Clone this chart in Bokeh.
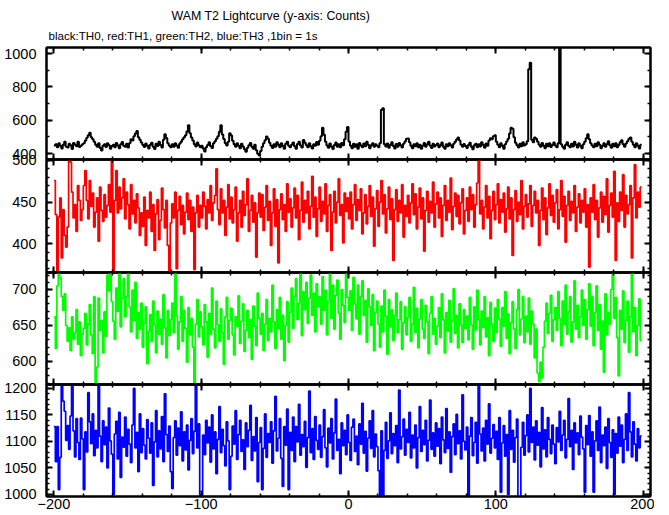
import numpy as np
from bokeh.plotting import figure
from bokeh.models import Range1d, LinearAxis, SingleIntervalTicker, Title, Grid
from bokeh.layouts import column
from bokeh.embed import file_html
from bokeh.resources import INLINE

# ---------------- data (counts per 1 s bin) ----------------
time_start = -200      # left edge of first bin [s]
bin_width = 1          # 1 bin = 1 s

title_text = "WAM T2 Lightcurve (y-axis: Counts)"
subtitle_text = "black:TH0, red:TH1, green:TH2, blue:TH3 ,1bin = 1s"

th0_counts = [
    448,455,438,462,447,430,452,470,441,436,458,449,427,463,452,444,471,439,446,455,
    462,478,495,510,524,498,485,470,452,440,461,433,418,447,456,439,462,450,428,445,
    452,437,463,448,431,455,469,447,440,458,436,462,485,478,503,520,535,497,482,466,
    451,439,460,446,430,452,465,441,427,458,445,470,451,436,482,516,493,462,447,438,
    455,441,462,448,435,459,470,486,498,510,532,569,521,496,478,455,442,466,450,437,
    446,430,412,438,451,467,445,433,462,474,488,503,530,569,514,487,462,448,471,522,
    508,476,455,440,462,447,431,458,442,426,410,435,449,463,441,428,452,419,398,388,
    415,440,462,479,502,488,465,447,433,456,441,468,452,437,461,445,429,458,470,447,
    438,452,466,443,429,457,471,448,436,481,465,450,438,462,444,430,455,447,469,452,
    476,503,555,512,470,448,435,460,442,427,451,466,440,455,437,463,449,485,530,559,
    472,446,432,458,441,455,429,463,448,437,460,444,470,452,431,449,462,440,456,447,
    438,461,662,671,455,442,460,434,451,468,445,430,457,441,463,449,436,458,472,489,
    490,468,447,432,456,444,461,438,452,429,447,463,440,455,470,446,433,458,442,451,
    460,437,449,466,441,428,455,443,462,450,436,459,470,484,496,478,452,440,457,445,
    433,451,464,440,426,449,458,437,455,442,468,451,434,460,447,478,492,486,503,510,
    470,452,438,461,447,429,456,472,488,520,555,548,497,465,450,436,459,443,467,448,
    456,474,905,945,482,468,496,488,471,452,440,463,447,431,458,444,462,439,451,466,
    448,437,462,1080,455,441,429,453,467,446,438,459,442,470,453,436,461,447,432,455,
    470,492,515,486,462,448,437,459,444,468,453,431,447,462,440,456,473,449,435,458,
    444,462,437,451,468,480,455,441,460,474,489,496,470,452,438,461,447,430,452,
]

th1_counts = [
    476,435,367,432,455,383,441,410,396,420,500,498,462,431,447,415,470,452,428,441,
    470,488,452,430,476,445,461,420,438,455,403,468,440,427,459,432,446,471,438,500,
    366,452,488,437,468,442,455,478,430,462,447,418,471,436,452,425,460,443,410,437,
    421,456,398,440,431,462,415,447,392,436,453,405,428,467,441,419,452,398,368,425,
    448,431,462,370,440,457,423,446,412,438,461,429,452,415,444,369,437,458,420,446,
    431,462,445,418,453,437,470,428,449,458,490,441,423,466,437,452,410,444,471,430,
    456,425,441,468,403,437,452,420,463,434,447,478,415,440,458,426,449,384,437,461,
    432,459,416,444,470,428,451,398,437,466,421,453,377,441,460,429,447,415,472,438,
    454,420,443,467,431,458,405,440,474,426,452,437,463,418,445,481,432,456,409,442,
    468,427,451,436,472,415,446,459,392,438,463,425,450,478,434,447,401,461,439,455,
    430,462,418,447,471,428,453,440,466,412,437,459,424,445,470,433,456,397,442,464,
    421,450,476,436,459,413,442,468,429,454,380,441,465,427,452,437,471,408,446,433,
    458,425,449,472,435,460,418,444,467,430,455,391,440,463,426,451,437,474,420,448,
    462,431,455,409,446,470,428,452,438,479,417,445,461,433,458,424,449,466,412,440,
    455,427,468,441,459,420,447,473,500,436,452,418,444,470,431,457,406,440,463,429,
    447,472,425,453,438,461,414,442,468,430,455,386,441,464,427,450,435,476,418,445,
    459,432,448,470,421,446,463,437,452,398,440,467,429,455,411,443,472,434,458,426,
    449,465,418,441,476,433,457,402,446,463,428,451,437,470,415,444,460,425,452,438,
    466,420,447,372,455,438,471,429,452,408,443,462,426,457,435,478,414,446,461,432,
    487,380,449,427,462,440,483,420,458,436,447,470,383,455,495,431,462,444,468,
]

th2_counts = [
    662,618,705,724,716,690,671,694,650,628,647,615,662,631,640,672,624,655,608,638,
    646,667,623,652,679,637,611,690,568,592,688,643,657,612,669,635,720,698,724,683,
    656,631,702,670,724,648,688,715,662,690,724,676,641,699,657,710,632,668,645,681,
    620,653,676,597,642,665,628,684,651,612,670,638,659,624,693,647,605,671,636,658,
    681,640,724,663,617,655,690,628,671,646,599,675,637,660,620,570,652,686,634,669,
    648,623,679,655,606,667,638,702,645,619,684,651,628,673,640,596,662,689,631,657,
    674,637,609,662,648,691,625,656,680,614,643,671,633,658,603,677,649,622,695,660,
    638,667,615,652,686,629,660,641,706,655,618,672,646,689,631,664,601,650,683,627,
    668,702,646,690,715,658,681,724,636,697,672,710,653,688,720,664,695,641,708,676,
    690,652,718,671,699,637,684,724,660,706,645,692,713,667,631,700,678,654,722,689,
    671,698,643,717,680,659,706,638,690,712,664,685,627,701,676,650,693,615,668,684,
    652,620,677,641,699,663,610,686,648,672,629,664,695,640,658,683,617,654,676,637,
    661,689,628,652,703,640,674,619,659,686,645,632,678,655,611,667,690,638,660,624,
    649,675,633,694,658,612,668,642,685,627,656,701,639,664,619,680,651,626,672,646,
    663,630,689,651,617,676,644,699,658,623,670,647,690,634,661,608,682,652,628,674,
    640,686,659,621,675,649,697,632,666,611,654,683,645,618,672,700,637,659,690,626,
    663,641,688,624,670,652,605,645,584,572,599,577,620,656,681,639,667,692,628,658,
    675,643,697,660,622,684,651,706,638,669,690,627,655,712,645,678,633,662,699,650,
    686,631,672,708,649,690,622,668,705,643,679,617,656,585,694,637,668,652,700,722,
    660,689,633,580,671,645,698,626,657,684,613,662,722,641,675,608,650,687,629,
]

th3_counts = [
    1128,1062,1128,1009,1070,1207,1176,1157,1102,1130,1085,1148,1207,1120,1071,1143,1098,1066,1144,1105,
    1009,1118,1080,1192,1137,1096,1152,1073,1121,1088,1204,1110,1062,1139,1094,1127,1050,1163,1101,1076,
    1000,1114,1138,1067,1155,1032,1108,1089,1146,1072,1123,1095,1060,1131,1200,1088,1117,1043,1152,1079,
    1124,1093,1067,1141,1106,1078,1135,1017,1099,1158,1071,1120,1086,1147,1062,1190,1113,1081,1129,1043,
    1011,1107,1139,1074,1125,1092,1156,1063,1118,1084,1131,1046,1102,1143,1077,1119,1207,1088,1133,998,
    996,1112,1075,1140,1097,1127,1061,1150,1086,1118,1039,1104,1166,1079,1123,1092,1054,1137,1101,1009,
    1072,1129,1095,1158,1066,1113,1140,1081,1103,1047,1135,1090,1121,1168,1064,1109,1082,1145,1024,1098,
    1126,1009,1087,1152,1070,1115,1098,1137,1059,1120,1185,1082,1106,1143,1068,1015,1128,1093,1161,1009,
    1117,1083,1146,1062,1128,1099,1170,1074,1113,1090,1138,1051,1107,1195,1079,1124,1066,1147,1102,1085,
    1131,1070,1109,1160,1088,1052,1125,1097,1143,1067,1116,1180,1083,1104,1039,1135,1092,1121,1075,1150,
    1098,1064,1127,1142,1081,1110,1056,1133,1095,1172,1078,1119,1044,1106,1139,1087,1158,1071,1114,1090,
    1045,995,1120,995,1083,1136,1068,1101,1154,1077,1115,1092,1130,1060,1197,1086,1109,1142,1074,1123,
    1098,1155,1069,1112,1088,1131,1050,1107,1166,1081,1121,1094,1140,1063,1102,1178,1085,1116,1072,1135,
    1091,1124,1058,1146,1103,1079,1162,1087,1118,1042,1109,1133,1075,1151,1096,1120,1067,1188,1100,1084,
    1127,995,1110,1145,1073,1098,1136,1059,1207,1114,1082,1125,1063,1140,1095,1171,1078,1106,1132,1088,
    1119,1066,1145,1004,1097,1130,1072,1113,1000,1158,1085,1121,1061,1107,1142,995,995,1089,1136,1074,
    1111,1150,1080,1200,1098,1127,1065,1139,1093,1117,1052,1164,1086,1122,1071,1145,1104,1077,1131,1095,
    1058,1126,1099,1157,1083,1112,1140,1069,1104,1181,1090,1121,1047,1135,1097,1116,1075,1148,1108,1086,
    1004,1130,1094,1149,1072,1118,1004,1101,1139,1083,1165,1060,1112,1092,1127,1049,1143,1098,1070,1122,
    1000,1115,1078,1146,1091,1131,1060,1104,1152,1083,1192,1118,1071,1137,1095,1063,1124,1088,1110,
]

# axis limits and tick spacing of each panel
x_limits = (-205, 205)
x_tick_interval = 100
x_label_overrides = {-200: "\u2212200", -100: "\u2212100"}
panel_specs = [
    # values,     colour,    y-limits,        major tick, minor count, line width
    (th0_counts, "#000000", (364, 1036),     200, 2, 2.0),
    (th1_counts, "#ff0000", (365.5, 501.2),  50,  5, 1.7),
    (th2_counts, "#00ff00", (568, 723.6),    50,  5, 1.7),
    (th3_counts, "#0000ff", (996, 1207.5),   50,  5, 1.7),
]

FONT = "Liberation Sans"


def style_axis(ax, show_labels, standoff=5):
    ax.axis_line_width = 2
    ax.axis_line_color = "black"
    ax.major_tick_in = 6
    ax.major_tick_out = 0
    ax.minor_tick_in = 3
    ax.minor_tick_out = 0
    ax.major_tick_line_width = 2
    ax.minor_tick_line_width = 1.5
    if show_labels:
        ax.major_label_text_font = FONT
        ax.major_label_text_font_size = "14.5px"
        ax.major_label_text_color = "black"
        ax.major_label_standoff = standoff
    else:
        ax.major_label_text_font_size = "1px"
        ax.major_label_text_color = None
        ax.major_label_standoff = 0


frame_heights = [112, 113, 112, 112]
OVER_TOP = 10      # transparent strip above each lower panel (lets labels overlap)
OVER_BOTTOM = 8    # transparent strip below each upper panel
figs = []
n = len(panel_specs)
for i, (vals, color, ylim, major, nminor, lw) in enumerate(panel_specs):
    first = i == 0
    last = i == n - 1
    top_border = 39 if first else OVER_TOP
    bottom_border = 19 if last else OVER_BOTTOM
    margin = (8 if first else -(OVER_TOP + OVER_BOTTOM), 0, 0, 1)
    p = figure(frame_width=604, frame_height=frame_heights[i],
               x_range=Range1d(*x_limits), y_range=Range1d(*ylim),
               x_axis_location=None, y_axis_location=None,
               toolbar_location=None, output_backend="svg",
               min_border_left=44, min_border_right=4,
               min_border_top=top_border, min_border_bottom=bottom_border,
               margin=margin, title=None,
               background_fill_color=None, border_fill_color=None,
               outline_line_color="black", outline_line_width=2)
    p.center = [r for r in p.center if not isinstance(r, Grid)]

    # histogram-style light curve
    edges = time_start + bin_width * np.arange(len(vals) + 1)
    ys = list(vals) + [vals[-1]]
    p.step(edges, ys, mode="after", line_color=color, line_width=lw)

    yt = lambda: SingleIntervalTicker(interval=major, num_minor_ticks=nminor)
    xt = lambda: SingleIntervalTicker(interval=x_tick_interval, num_minor_ticks=5)

    left = LinearAxis(ticker=yt())
    style_axis(left, True, standoff=10)
    right = LinearAxis(ticker=yt())
    style_axis(right, False)
    top = LinearAxis(ticker=xt())
    style_axis(top, False)
    bottom = LinearAxis(ticker=xt())
    style_axis(bottom, last, standoff=2)
    if last:
        bottom.major_label_overrides = x_label_overrides
    p.add_layout(left, "left")
    p.add_layout(right, "right")
    p.add_layout(top, "above")
    p.add_layout(bottom, "below")

    if first:
        p.add_layout(Title(text=subtitle_text, align="left", offset=2, standoff=12,
                           text_font=FONT, text_font_size="11.6px",
                           text_font_style="normal", text_color="black"), "above")
        p.add_layout(Title(text=title_text, align="left", offset=125, standoff=-5,
                           text_font=FONT, text_font_size="12.4px",
                           text_font_style="normal", text_color="black"), "above")
    figs.append(p)

layout = column(*figs, spacing=0)
open("out.html", "w").write(file_html(layout, INLINE))
